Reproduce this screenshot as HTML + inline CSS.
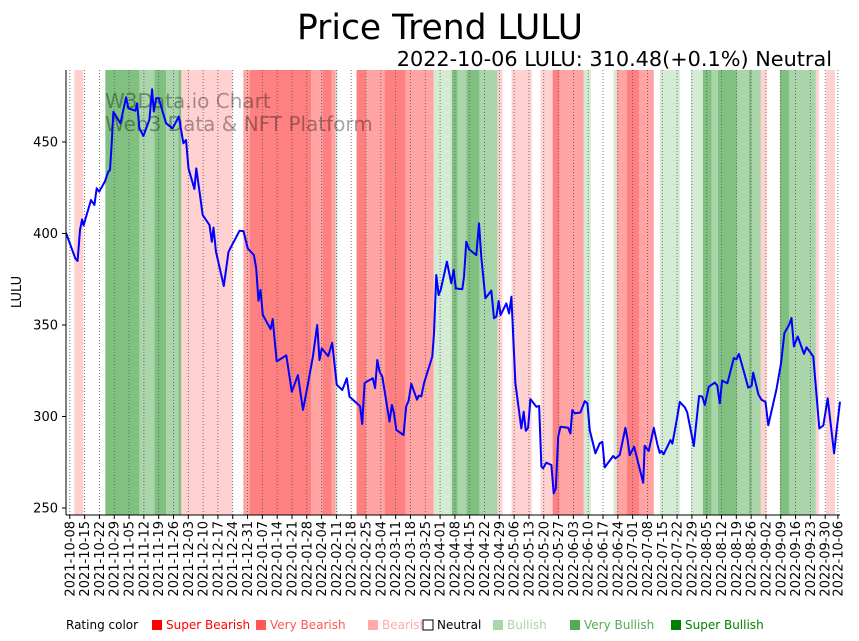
<!DOCTYPE html>
<html><head><meta charset="utf-8"><style>
body{margin:0;background:#fff;}
svg{display:block;font-family:"DejaVu Sans","Liberation Sans",sans-serif;}
</style></head><body>
<svg id="chart" width="859" height="641" viewBox="0 0 859 641" xmlns="http://www.w3.org/2000/svg">
<text x="440" y="39" font-size="34.5" text-anchor="middle" fill="#000">Price Trend LULU</text>
<text x="832" y="66" font-size="20.8" text-anchor="end" fill="#000">2022-10-06 LULU: 310.48(+0.1%) Neutral</text>
<g id="bands"></g>
<g id="grid"></g>
<text x="105" y="108" font-size="20" fill="#000" fill-opacity="0.35">W3Data.io Chart</text>
<text x="105" y="131" font-size="20" fill="#000" fill-opacity="0.35">Web3 Data &amp; NFT Platform</text>
<path id="line" fill="none" stroke="#0000ff" stroke-width="2" stroke-linejoin="round"></path>
<g id="axes"></g>
<text transform="translate(21,292) rotate(-90)" font-size="13" text-anchor="middle">LULU</text>
<g id="legend"></g>
</svg>
<script>
const days=[-1.8,2.6,3.7,4.8,5.8,6.5,10.0,11.6,12.7,13.9,16.6,18.2,19.0,19.8,20.6,23.9,26.6,27.7,31.0,31.8,32.9,34.8,37.6,38.9,39.7,40.8,42.0,45.5,48.6,51.5,53.7,54.9,56.1,58.9,59.8,62.8,66.0,67.1,67.9,69.1,72.8,75.0,80.2,82.1,84.1,87.0,88.1,89.2,90.1,91.2,94.9,95.9,97.8,102.3,104.9,107.8,110.2,112.5,114.9,116.9,118.0,119.1,122.1,124.0,126.2,128.8,130.9,132.2,137.2,138.2,139.3,140.4,143.2,144.3,145.3,146.4,147.7,151.1,152.2,153.2,154.3,157.7,159.0,160.1,161.4,164.1,165.0,166.1,167.4,171.3,172.1,173.2,174.3,175.3,178.2,180.3,181.4,182.4,185.5,186.3,187.4,188.7,192.1,193.4,194.5,196.4,199.2,200.5,201.6,202.7,203.6,206.3,207.6,208.7,210.6,213.4,214.5,215.5,216.6,217.7,220.5,221.8,222.9,223.7,225.2,227.6,228.7,229.7,230.8,231.9,235.5,236.6,237.5,238.6,241.3,243.4,244.6,245.7,248.4,250.5,251.7,252.8,256.8,257.9,259.9,262.6,263.5,264.6,266.7,271.0,271.7,273.6,276.0,277.6,278.8,279.6,280.7,283.9,284.8,286.7,288.3,290.7,291.8,294.9,297.4,298.9,300.1,302.0,304.9,306.0,307.2,308.3,310.8,312.7,313.8,315.1,316.2,319.0,320.6,322.2,323.0,325.4,326.9,328.8,330.1,334.0,336.1,337.7,340.0,341.1,342.2,344.0,347.0,348.2,351.4,354.2,356.1,358.2,361.2,362.4,364.0];
const prices=[400.4,386.4,385,401.9,407.7,404.5,418.3,415.6,424.7,422.9,428.4,433.8,434.7,449.3,466.5,460.2,474.4,468.4,467.1,471.1,457.5,453.3,462.2,478.8,466.6,473.9,473.9,460.2,457.5,463.9,449.3,451.1,435.6,424.3,435.6,410.1,404.6,395.5,403.2,390,371.3,390,401.5,401.3,391.8,388.2,381,363.3,369.1,355.5,347.7,353.2,330.1,333.4,313.5,322.6,303.6,317.3,332.8,350,330.8,337.2,333,340.3,317.3,314.5,320.9,310.9,305.6,295.9,318.2,319.1,320.9,315.5,330.9,324.5,321.8,297.2,306.3,301.8,292.7,289.9,305.5,308.6,317.9,309.2,311.4,311,318.2,332.8,345.4,377.3,366.4,369.1,384.6,372.8,380.1,370,369.5,376.4,395.5,391.3,388.2,405.5,386.4,364.6,368.8,353.7,354.6,363.1,355.4,361.8,356.3,365.4,318.2,293.5,302.6,292.2,293.8,309.5,305.3,305.8,272.6,271.7,274.8,273.5,258,260.7,288.9,294.4,293.8,290.7,303.5,301.7,302.2,308.4,307.2,292.6,279.9,285.4,286.2,272.2,278.4,277.1,278.9,293.8,288,278.9,283.5,263.8,284,281.2,293.8,285.2,280.1,281.2,279.4,287.1,285.2,297.1,308,305,302.3,283.9,311.2,310.9,306.3,316.3,318.5,316.9,307.2,319.6,318.2,326.9,331.9,331.3,334.2,322.7,315.8,316.7,324,312.2,309.2,307.9,295.2,315,328.9,345.6,350.2,353.8,338.3,343.7,334.2,337.8,332.8,293.5,295,309.9,279.9,292.6,308.1,310.9];
const bandStarts=[2.1,16.8,32.9,40,45.6,51.3,52.7,82,85,114,119.4,123.7,125.6,135.5,140,148.8,158.7,172,180.5,183.3,187.5,193.7,202.2,208.8,222.5,228.2,231.5,242.9,257,258.5,263.3,269,278.8,293.5,299.2,303.4,306.3,315.3,321,322.3,326.6,335.6,339.9,352.6,357.3];
const bandEnds=[6.4,32.9,40,45.6,51.3,52.7,76.9,85,114,119.4,123.7,125.6,126.5,140,148.8,158.7,172,180.5,183.3,187.5,193.7,202.2,204.5,218.3,228.2,231.5,242.9,246.2,258.5,263.3,269,276,288.3,299.2,303.4,306.3,315.3,321,322.3,326.6,329.4,339.9,352.6,354,361.6];
const bandRatings=[-1,3,2,3,2,3,-1,-2,-3,-2,-3,-2,1,-3,-2,-3,-2,1,3,2,3,2,-1,-1,-1,-3,-2,1,1,-2,-3,-2,1,1,3,2,3,2,3,2,-1,3,2,-1,-1];
const yTicks=[250,300,350,400,450];

const NS='http://www.w3.org/2000/svg';
const X0=66,X1=840,Y0=70,Y1=515,DMIN=-1.8,DMAX=364;
const xs=d=>X0+(d-DMIN)/(DMAX-DMIN)*(X1-X0);
const ys=v=>508-(v-250)*1.83;
const colors={'-3':'#ff8080','-2':'#ffa3a3','-1':'#ffd1d1','1':'#d3ead3','2':'#aad4aa','3':'#80c080'};
function mk(tag,attrs,parent){const e=document.createElementNS(NS,tag);for(const k in attrs)e.setAttribute(k,attrs[k]);parent.appendChild(e);return e;}
const bandsG=document.getElementById('bands');
bandStarts.forEach((s,i)=>{
  const r=mk('rect',{x:xs(s),y:Y0,width:Math.max(0.5,xs(bandEnds[i])-xs(s)),height:Y1-Y0,fill:colors[bandRatings[i]]},bandsG);
  
  
});
const gridG=document.getElementById('grid'),axG=document.getElementById('axes');
const start=new Date(Date.UTC(2021,9,8));
const tickDays=[];
for(let d=0;d<=363;d+=7)tickDays.push(d);
tickDays.push(363);
tickDays.forEach(d=>{
  const x=xs(d);
  const g=mk('line',{x1:x,x2:x,y1:Y0,y2:Y1,stroke:'#555','stroke-width':0.8,'stroke-dasharray':'1,2'},gridG);
  
  
  mk('line',{x1:x,x2:x,y1:Y1,y2:Y1+4,stroke:'#000','stroke-width':1},axG);
  const dt=new Date(start.getTime()+d*86400000);
  const t=mk('text',{transform:`translate(${x+4.5},${Y1+6}) rotate(-90)`,'font-size':13,'text-anchor':'end'},axG);
  t.textContent=dt.toISOString().slice(0,10);
  
  
});
yTicks.forEach(v=>{
  const y=ys(v);
  mk('line',{x1:X0-4,x2:X0,y1:y,y2:y,stroke:'#000','stroke-width':1},axG);
  const t=mk('text',{x:X0-8,y:y+4.5,'font-size':13,'text-anchor':'end'},axG);
  t.textContent=v;
  
  
});
mk('line',{x1:X0,x2:X0,y1:Y0,y2:Y1,stroke:'#000','stroke-width':1},axG);
mk('line',{x1:X0,x2:X1,y1:Y1,y2:Y1,stroke:'#000','stroke-width':1},axG);
document.getElementById('line').setAttribute('d',days.map((d,i)=>(i?'L':'M')+xs(d).toFixed(1)+','+ys(prices[i]).toFixed(1)).join(''));
const leg=document.getElementById('legend');
const lt=mk('text',{x:66,y:629,'font-size':12},leg);lt.textContent='Rating color';
const items=[['Super Bearish','#ff0000',152],['Very Bearish','#ff5555',256],['Bearish','#ffaaaa',368],['Neutral','#ffffff',423],['Bullish','#aad4aa',493],['Very Bullish','#55aa55',570],['Super Bullish','#008000',671]];
items.forEach(([n,c,x])=>{
  const r=mk('rect',{x:x,y:620,width:10,height:10,fill:c,stroke:n==='Neutral'?'#000':'none'},leg);
  
  
  const t=mk('text',{x:x+14,y:629,'font-size':12,fill:n==='Neutral'?'#000':c},leg);
  t.textContent=n;
  
  
});
</script>
</body></html>
